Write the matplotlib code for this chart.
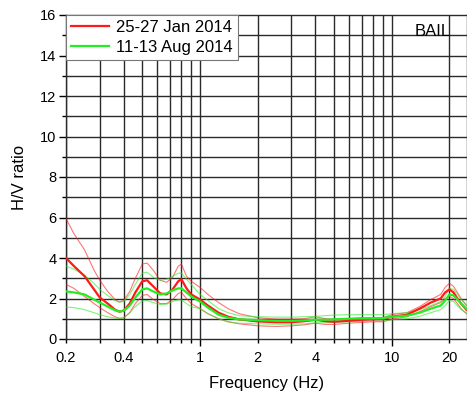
import numpy as np
import matplotlib
matplotlib.use('Agg')
import matplotlib.pyplot as plt
from matplotlib.ticker import FixedLocator, NullFormatter

plt.rcParams['font.family'] = ['Liberation Sans', 'DejaVu Sans']

freq = [0.2, 0.22, 0.25, 0.28, 0.3, 0.33, 0.36, 0.38, 0.4, 0.43, 0.46, 0.5, 0.53,
        0.57, 0.62, 0.67, 0.72, 0.77, 0.8, 0.85, 0.9, 1.0, 1.1, 1.25, 1.4, 1.6, 2,
        2.5, 3, 3.5, 4, 4.5, 5, 6, 7, 8, 9, 10, 12, 14, 16, 18, 19, 20, 21, 22, 23, 24.5]

jan_mean = [4.0, 3.6, 3.1, 2.45, 2.05, 1.75, 1.45, 1.35, 1.4, 1.75, 2.3, 2.85, 2.9,
            2.6, 2.25, 2.2, 2.45, 2.85, 2.95, 2.5, 2.2, 1.95, 1.65, 1.3, 1.1, 0.97, 0.87,
            0.83, 0.83, 0.88, 0.95, 0.88, 0.85, 0.9, 0.95, 0.97, 0.98, 1.1, 1.2, 1.5,
            1.8, 2.0, 2.3, 2.45, 2.3, 2.0, 1.75, 1.45]
jan_upper = [5.95, 5.2, 4.4, 3.4, 2.9, 2.35, 1.95, 1.82, 1.9, 2.35, 3.0, 3.7, 3.75,
             3.4, 2.9, 2.8, 3.05, 3.6, 3.7, 3.1, 2.85, 2.55, 2.2, 1.8, 1.5, 1.25, 1.05,
             0.98, 0.98, 1.0, 1.1, 1.0, 0.95, 1.0, 1.05, 1.05, 1.05, 1.2, 1.3, 1.6,
             1.95, 2.2, 2.55, 2.75, 2.6, 2.3, 2.0, 1.65]
jan_lower = [2.7, 2.5, 2.1, 1.75, 1.55, 1.3, 1.1, 1.02, 1.05, 1.3, 1.75, 2.15, 2.2,
             1.95, 1.75, 1.75, 1.95, 2.25, 2.3, 2.0, 1.75, 1.5, 1.25, 1.0, 0.85, 0.75, 0.65,
             0.62, 0.65, 0.7, 0.78, 0.72, 0.72, 0.78, 0.82, 0.85, 0.85, 0.98, 1.1, 1.35,
             1.6, 1.8, 2.0, 2.1, 2.0, 1.75, 1.5, 1.25]
aug_mean = [2.35, 2.3, 2.2, 1.95, 1.8, 1.6, 1.42, 1.35, 1.4, 1.65, 2.05, 2.45, 2.5,
            2.35, 2.2, 2.25, 2.4, 2.5, 2.5, 2.3, 2.1, 1.85, 1.55, 1.2, 1.05, 0.97, 0.93,
            0.9, 0.9, 0.92, 0.95, 0.95, 0.97, 1.0, 1.02, 1.02, 1.03, 1.1, 1.15, 1.3,
            1.5, 1.65, 1.9, 2.2, 2.15, 1.95, 1.75, 1.5]
aug_upper = [3.6, 3.45, 3.15, 2.75, 2.45, 2.15, 1.9, 1.82, 1.85, 2.2, 2.7, 3.25, 3.3,
             3.05, 2.9, 2.95, 3.1, 3.25, 3.25, 2.95, 2.7, 2.2, 1.9, 1.5, 1.3, 1.15, 1.1,
             1.08, 1.08, 1.1, 1.12, 1.15, 1.18, 1.2, 1.2, 1.2, 1.2, 1.25, 1.3, 1.45,
             1.65, 1.85, 2.1, 2.5, 2.45, 2.2, 1.95, 1.7]
aug_lower = [1.58, 1.55, 1.45, 1.3, 1.2, 1.1, 1.03, 1.02, 1.03, 1.3, 1.6, 1.88, 1.9,
             1.8, 1.7, 1.72, 1.85, 1.95, 1.93, 1.75, 1.6, 1.5, 1.25, 1.0, 0.85, 0.78, 0.75,
             0.73, 0.73, 0.75, 0.8, 0.8, 0.82, 0.85, 0.87, 0.87, 0.88, 0.95, 1.0, 1.12,
             1.3, 1.45, 1.65, 1.9, 1.85, 1.65, 1.45, 1.3]

x_ticks = [0.2, 0.4, 1, 2, 4, 10, 20]
x_ticklabels = ['0.2', '0.4', '1', '2', '4', '10', '20']
station = 'BAIL'

fig = plt.figure(figsize=(4.67, 3.96), dpi=100)
ax = fig.add_axes([66 / 467, 1 - 339 / 396, 1 - 66 / 467, (339 - 15) / 396])

# grid at every log sub-decade and every integer ratio
x_grid = [m * 10 ** e for e in (-1, 0, 1) for m in range(1, 10)]
x_grid = [v for v in x_grid if 0.2 <= v <= 25]
for v in x_grid:
    ax.axvline(v, color='#2a2a2a', lw=1.0, zorder=1)
for v in range(1, 16):
    ax.axhline(v, color='#2a2a2a', lw=1.0, zorder=1)

red, green = '#ff1a1a', '#22ee22'
ax.plot(freq, jan_upper, color=red, lw=0.8, alpha=0.6, zorder=3)
ax.plot(freq, jan_lower, color=red, lw=0.8, alpha=0.6, zorder=3)
ax.plot(freq, aug_upper, color=green, lw=0.8, alpha=0.6, zorder=3)
ax.plot(freq, aug_lower, color=green, lw=0.8, alpha=0.6, zorder=3)
ax.plot(freq, jan_mean, color=red, lw=1.6, zorder=4, label='25-27 Jan 2014')
ax.plot(freq, aug_mean, color=green, lw=1.6, zorder=5, label='11-13 Aug 2014')

ax.set_xscale('log')
ax.set_xlim(0.2, 24.7)
ax.set_ylim(0, 16)
ax.xaxis.set_major_locator(FixedLocator([1, 10]))
ax.xaxis.set_minor_locator(FixedLocator(x_grid))
ax.xaxis.set_major_formatter(NullFormatter())
ax.xaxis.set_minor_formatter(NullFormatter())
for v, lab in zip(x_ticks, x_ticklabels):
    ax.text(v, -0.6, lab, ha='center', va='top', fontsize=10.5, clip_on=False)
ax.set_yticks(range(0, 17, 2))
ax.set_yticks(range(1, 16, 2), minor=True)
ax.tick_params(axis='x', which='major', length=5, width=1.0, direction='out')
ax.tick_params(axis='x', which='minor', length=3, width=1.0, direction='out')
ax.tick_params(axis='y', which='major', length=5, width=1.0, direction='out', labelsize=10.5, pad=2)
ax.tick_params(axis='y', which='minor', length=3, width=1.0, direction='out')
for s in ax.spines.values():
    s.set_color('#2a2a2a')
    s.set_linewidth(1.0)

ax.set_xlabel('Frequency (Hz)', fontsize=12, labelpad=18)
ax.set_ylabel('H/V ratio', fontsize=12, labelpad=9)
ax.text(0.96, 0.972, station, transform=ax.transAxes, ha='right', va='top', fontsize=12, zorder=6)

leg = ax.legend(loc='upper left', fontsize=12, frameon=True, fancybox=False,
                borderaxespad=0, handlelength=2.3, handletextpad=0.4,
                borderpad=0.3, labelspacing=0.3)
leg.get_frame().set_edgecolor('#777777')
leg.get_frame().set_linewidth(0.8)
leg.get_frame().set_alpha(1)
leg.set_zorder(10)

fig.savefig('out.png', dpi=100)
